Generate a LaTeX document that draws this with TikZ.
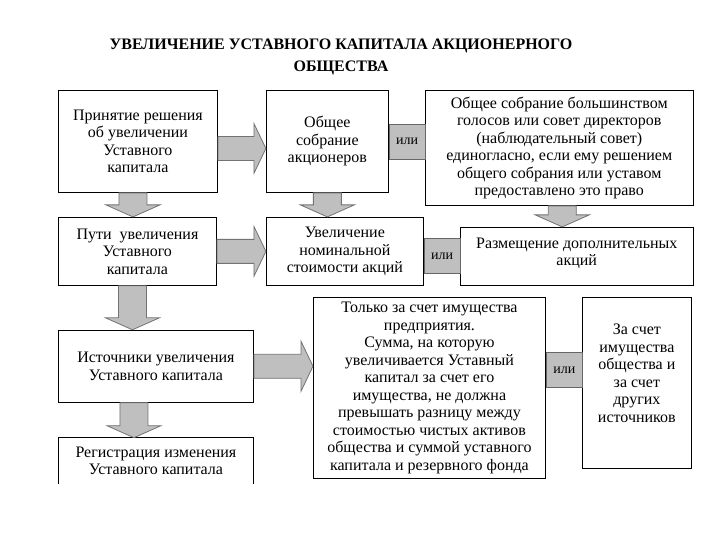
\documentclass[tikz,border=0pt]{standalone}
\usepackage{fontspec}
\setmainfont{Liberation Serif}
\usetikzlibrary{positioning,calc}

\begin{document}
\begin{tikzpicture}[x=1pt,y=-1pt,
    box/.style={draw,line width=0.9pt,align=center,inner sep=2pt,
        font=\fontsize{16}{17.5}\selectfont},
    orbox/.style={draw=black!60,fill=black!25,line width=0.8pt,
        minimum width=36pt,minimum height=35pt,inner sep=0pt,
        font=\fontsize{14}{16}\selectfont},
    fatright/.style={draw=black!55,fill=black!25,line width=0.8pt,
        to path={let \p1=(\tikztostart), \p2=(\tikztotarget) in
            (\x1,\y1+12pt) -- (\x2-12pt,\y1+12pt) -- (\x2-12pt,\y1+25pt) -- (\x2,\y1)
            -- (\x2-12pt,\y1-25pt) -- (\x2-12pt,\y1-12pt) -- (\x1,\y1-12pt) -- cycle}},
    fatdown/.style={draw=black!55,fill=black!25,line width=0.8pt,
        to path={let \p1=(\tikztostart), \p2=(\tikztotarget) in
            (\x1-14pt,\y1) -- (\x1-14pt,\y2+12pt) -- (\x1-27pt,\y2+12pt) -- (\x1,\y2)
            -- (\x1+27pt,\y2+12pt) -- (\x1+14pt,\y2+12pt) -- (\x1+14pt,\y1) -- cycle}}]
    \useasboundingbox (0,0) rectangle (720,540);

    \node[font=\bfseries\fontsize{16}{22}\selectfont,align=center] (title) at (341,57)
        {УВЕЛИЧЕНИЕ УСТАВНОГО КАПИТАЛА АКЦИОНЕРНОГО\\ОБЩЕСТВА};

    % first row
    \node[box,minimum width=159pt,minimum height=102pt,anchor=north west] (a) at (58,90)
        {Принятие решения\\об увеличении\\Уставного\\капитала};
    \node[box,minimum width=122pt,minimum height=102pt] (b) [right=48pt of a]
        {Общее\\собрание\\акционеров};
    \node[box,minimum width=268pt,minimum height=115pt] (c) [right=36pt of b.north east,anchor=north west]
        {Общее собрание большинством\\голосов или совет директоров\\(наблюдательный совет)\\единогласно, если ему решением\\общего собрания или уставом\\предоставлено это право};
    \node[orbox] (or1) [right=0pt of b] {или};

    % second row
    \node[box,minimum width=158pt,minimum height=68pt] (d) [below=24pt of a.south west,anchor=north west]
        {Пути\ \ увеличения\\Уставного\\капитала};
    \node[box,minimum width=157pt,minimum height=68pt] (e) [right=49pt of d.north east,anchor=north west]
        {Увеличение\\номинальной\\стоимости акций};
    \node[box,minimum width=233pt,minimum height=58pt] (f) [right=36pt of e.south east,anchor=south west]
        {Размещение дополнительных\\акций\\[-8pt]\mbox{}};
    \node[orbox,yshift=-5pt] (or2) [right=0pt of e] {или};

    % sources
    \node[box,minimum width=195pt,minimum height=72pt] (g) [below=44pt of d.south west,anchor=north west]
        {Источники увеличения\\Уставного капитала};
    \node[box,minimum width=232pt,minimum height=181pt,anchor=north west] (h) at (313,297)
        {Только за счет имущества\\предприятия.\\Сумма, на которую\\увеличивается Уставный\\капитал за счет его\\имущества, не должна\\превышать разницу между\\стоимостью чистых активов\\общества и суммой уставного\\капитала и резервного фонда};
    \node[box,minimum width=109pt,minimum height=171pt] (i) [right=36pt of h.north east,anchor=north west]
        {За счет\\имущества\\общества и\\за счет\\других\\источников\\[2pt]\mbox{}};
    \node[orbox,yshift=18pt] (or3) [right=0pt of h] {или};
    \node[box,draw=none,minimum width=195pt,minimum height=45pt] (j) [below=35pt of g.south west,anchor=north west]
        {Регистрация изменения\\Уставного капитала};
    \draw[line width=0.9pt] (j.south west) |- (j.north east) -- (j.south east);

    \path ([yshift=-7pt]a.east) edge[fatright] (b.west)
          (d.east) edge[fatright] (e.west)
          (g.east) edge[fatright] (h.west)
          ([xshift=-5pt]a.south) edge[fatdown] (d.north)
          (b.south) edge[fatdown] (e.north)
          ([xshift=3pt]c.south) edge[fatdown] (f.north)
          ([xshift=-5pt]d.south) edge[fatdown] (g.north)
          ([xshift=-22pt]g.south) edge[fatdown] (j.north);
\end{tikzpicture}
\end{document}
